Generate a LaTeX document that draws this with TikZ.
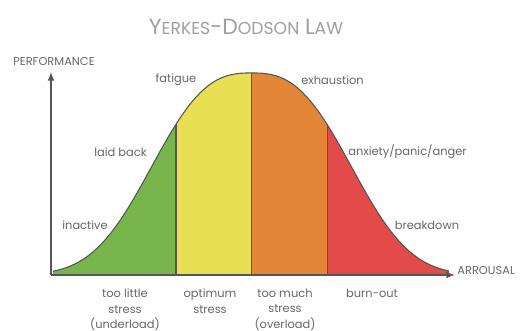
\documentclass[tikz,border=0pt]{standalone}
\usepackage{fontspec}
\setmainfont{Poppins}
\usetikzlibrary{arrows, calc, positioning}

\definecolor{lowgreen}{HTML}{78B54D}
\definecolor{optyellow}{HTML}{E8DF53}
\definecolor{highorange}{HTML}{E38638}
\definecolor{burnred}{HTML}{E34B4B}
\definecolor{edgegray}{HTML}{555555}
\definecolor{textgray}{HTML}{666666}

\tikzset{
	label/.style={text=textgray, font=\fontsize{6.5}{8.8}\selectfont, inner sep=0pt},
	stress/.style={label, align=center, anchor=north},
	zone/.style={draw=edgegray, line width=.6pt}
}

\begin{document}
\begin{tikzpicture}[scale=.2]

	\useasboundingbox (0,0) rectangle (52.9,33.1);

	\coordinate (O) at (5.1,5.6);
	\coordinate (Top) at (5.1,25.9);
	\coordinate (End) at (45.5,5.6);

	% bell curve, split in four zones
	\begin{scope}
		\clip (5.3,5.6) -- plot[domain=5.3:44.9,samples=90] (\x,{5.6+20.2*exp(-((abs(\x-25.15)+0.001)/11.9)^2.7)}) -- (44.9,5.6) -- cycle;
		\fill[lowgreen] (5,5.6) rectangle (17.6,27);
		\fill[optyellow] (17.6,5.6) rectangle (25.15,27);
		\fill[highorange] (25.15,5.6) rectangle (32.75,27);
		\fill[burnred] (32.75,5.6) rectangle (45,27);
		\draw[zone] (17.6,5.6) -- (17.6,27);
		\draw[zone] (25.15,5.6) -- (25.15,27);
		\draw[zone] (32.75,5.6) -- (32.75,27);
	\end{scope}
	\draw[zone] plot[domain=5.3:44.9,samples=90] (\x,{5.6+20.2*exp(-((abs(\x-25.15)+0.001)/11.9)^2.7)});

	\draw[edgegray, line width=.7pt, -latex] (O) -- (Top);
	\draw[edgegray, line width=.7pt, -latex] (O) -- (End);

	\node (title) at (24.6,30.4) [text=gray!75, font=\fontsize{12.5}{14}\selectfont] {Y{\fontsize{9.8}{11}\selectfont ERKES}-D{\fontsize{9.8}{11}\selectfont ODSON} L{\fontsize{9.8}{11}\selectfont AW}};
	\node (perf) at (5.4,26.9) [label] {PERFORMANCE};
	\node (arr) at (45.7,6.0) [label, anchor=west] {ARROUSAL};

	\node (fat) at (17.6,25.1) [label] {fatigue};
	\node (exh) at (33.25,25.1) [label] {exhaustion};
	\node (laid) at (12.05,17.9) [label] {laid back};
	\node (anx) at (40.75,17.9) [label] {anxiety/panic/anger};
	\node (inact) at (8.5,10.6) [label] {inactive};
	\node (brk) at (42.7,10.6) [label] {breakdown};

	\node (under) at (12.5,4.25) [stress] {too little\\stress\\(underload)};
	\node (opt) at (21.0,4.25) [stress] {optimum\\stress};
	\node (over) at (28.5,4.25) [stress] {too much\\stress\\(overload)};
	\node (burn) at (37.2,4.25) [stress] {burn-out};

\end{tikzpicture}
\end{document}
